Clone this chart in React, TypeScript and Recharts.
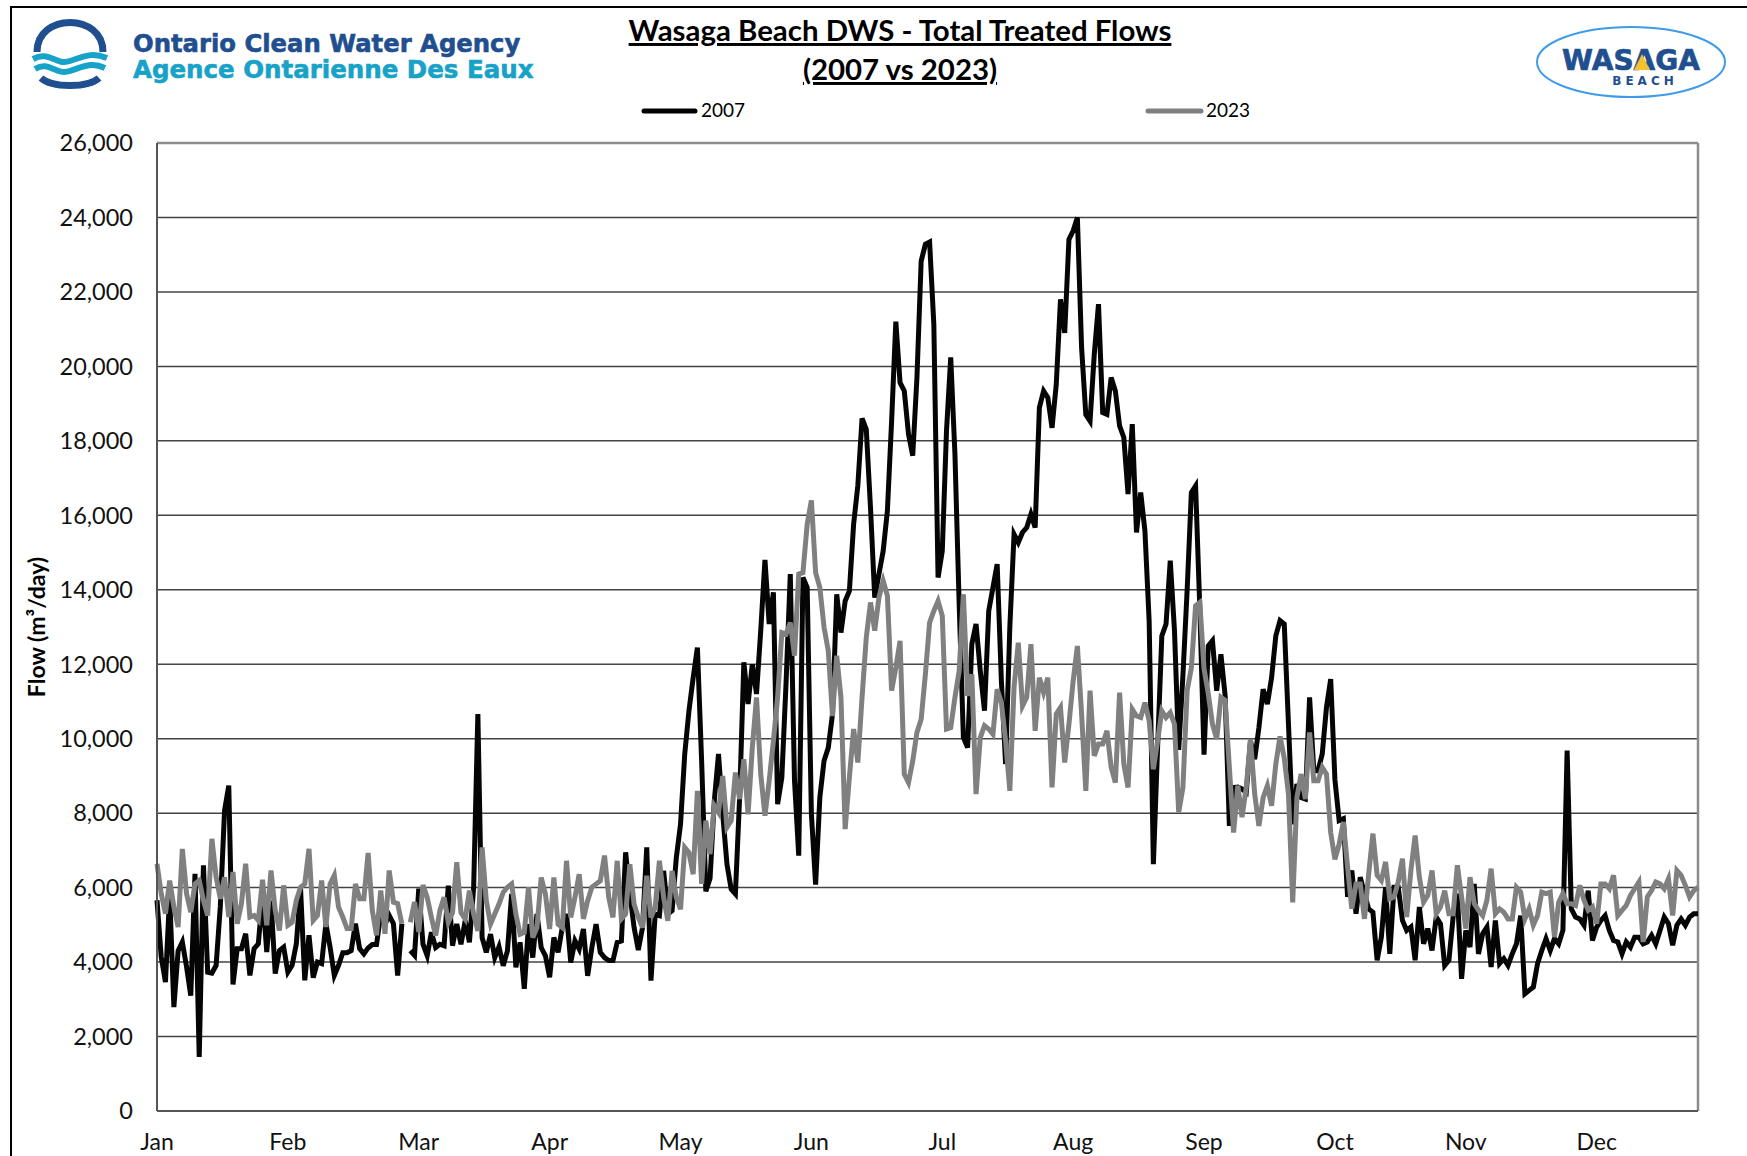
import {
  LineChart,
  Line,
  XAxis,
  YAxis,
  CartesianGrid,
  ReferenceLine,
} from "recharts";

const monthLabels = ["Jan", "Feb", "Mar", "Apr", "May", "Jun", "Jul", "Aug", "Sep", "Oct", "Nov", "Dec"];
const yTicks = [0, 2000, 4000, 6000, 8000, 10000, 12000, 14000, 16000, 18000, 20000, 22000, 24000, 26000];

// one value per day, slot 59 is the blank Feb 29 of the template
const flow2007 = [
  5660, 4135, 3460, 5800, 2790, 4300, 4540, 3870, 3100, 6370,
  1450, 6600, 3730, 3705, 3910, 5500, 8070, 8740, 3400, 4360,
  4360, 4760, 3640, 4360, 4490, 5800, 4270, 5650, 3690, 4310,
  4400, 3730, 3910, 4490, 5970, 3510, 4720, 3580, 4000, 3960,
  5030, 4400, 3640, 3910, 4250, 4250, 4310, 5030, 4360, 4220,
  4380, 4470, 4470, 5300, 5030, 5250, 5030, 3640, 5030, null,
  4310, 4180, 5970, 4480, 4170, 4800, 4390, 4480, 4440, 6050,
  4440, 5020, 4480, 5110, 4530, 6000, 10660, 4660, 4260, 4750,
  4120, 4410, 3900, 4300, 5830, 3860, 4530, 3280, 5020, 4120,
  5290, 4390, 4170, 3590, 4660, 4260, 4930, 5290, 3990, 4570,
  4350, 4890, 3630, 4390, 5020, 4260, 4120, 4040, 4040, 4530,
  4570, 6950, 5830, 4930, 4320, 4930, 7080, 3500, 5290, 5250,
  6450, 5290, 5380, 6800, 7700, 9590, 10750, 11640, 12450, 9400,
  5900, 6250, 8330, 9590, 7970, 6630, 5960, 5830, 8420, 12050,
  10930, 12000, 11200, 12900, 14800, 13080, 13930, 8240, 8960, 11500,
  14420, 8870, 6860, 14330, 14060, 7970, 6080, 8420, 9410, 9760,
  10660, 13880, 12850, 13700, 13970, 15760, 16800, 18600, 18310, 16200,
  13790, 14420, 15040, 16120, 18530, 21200, 19560, 19340, 18180, 17600,
  19700, 22830, 23280, 23340, 21130, 14330, 15040, 18270, 20240, 17640,
  13610, 10030, 9760, 12540, 13080, 11820, 10750, 13430, 14060, 14690,
  11550, 9320, 13000, 15490, 15270, 15540, 15670, 16030, 15670, 18890,
  19340, 19160, 18350, 19520, 21800, 20900, 23410, 23640, 24000, 20500,
  18700, 18530, 20320, 21670, 18760, 18710, 19700, 19340, 18400, 18090,
  16570, 18450, 15540, 16610, 15580, 13160, 6630, 9760, 12760, 13080,
  14780, 12900, 9700, 11700, 14000, 16610, 16790, 13500, 9570, 12490,
  12630, 11290, 12270, 11150, 7660, 8690, 8700, 8650, 8560, 9940,
  9450, 10300, 11330, 10930, 11640, 12760, 13170, 13080, 10390, 7700,
  8780, 8420, 8380, 11110, 9140, 9140, 9590, 10840, 11600, 8900,
  7800, 7850, 5750, 6460, 5300, 6280, 5840, 5430, 5340, 4050,
  4670, 6010, 4220, 6010, 6010, 5120, 4850, 4940, 4050, 5480,
  4490, 4900, 4310, 5210, 5030, 3910, 4050, 5210, 5840, 3550,
  4850, 4400, 6100, 4220, 4760, 4940, 3870, 5120, 3960, 4090,
  3910, 4220, 4490, 5250, 3150, 3240, 3330, 3960, 4310, 4630,
  4310, 4630, 4490, 4850, 9680, 5430, 5210, 5160, 4990, 5920,
  4580, 4940, 5120, 5250, 4850, 4580, 4540, 4220, 4540, 4400,
  4670, 4670, 4490, 4540, 4720, 4490, 4850, 5210, 5030, 4450,
  4990, 5160, 4990, 5210, 5300, 5300,
];

const flow2023 = [
  6640, 5840, 5300, 6190, 5480, 4940, 7040, 5840, 5340, 6100,
  6190, 5660, 5250, 7310, 6280, 5700, 6280, 5210, 6420, 5030,
  5570, 6640, 5210, 5250, 5120, 6210, 4990, 6460, 5390, 4850,
  6060, 4990, 5070, 5660, 6010, 6100, 7040, 5120, 5250, 6190,
  4940, 6100, 6330, 5480, 5210, 4900, 4900, 6100, 5700, 5700,
  6930, 5390, 4720, 5920, 4760, 6460, 5610, 5570, 5030, null,
  5070, 5610, 4810, 6070, 5740, 5200, 4710, 5380, 5740, 5070,
  5330, 6680, 5330, 5160, 5920, 5290, 4840, 7080, 5650, 5020,
  5290, 5560, 5870, 6010, 6100, 5290, 4750, 4800, 6010, 4660,
  4930, 6270, 5830, 4890, 6270, 5020, 4930, 6720, 5200, 5740,
  6360, 5160, 5650, 6010, 6100, 6180, 6860, 5740, 5200, 6720,
  5160, 5290, 6630, 5560, 5200, 4930, 6320, 5200, 5470, 6720,
  5740, 5110, 6450, 5740, 5420, 7080, 6940, 6360, 8600, 6100,
  7800, 6900, 8200, 8020, 9000, 7620, 7800, 9090, 8380, 9450,
  7970, 9760, 11110, 9050, 7930, 8870, 9940, 11110, 12850, 12810,
  13120, 12230, 14420, 14460, 15760, 16400, 14460, 14060, 12990, 12360,
  10610, 12230, 11110, 7570, 8960, 10260, 9360, 11110, 12720, 13660,
  12900, 13790, 14240, 13840, 11290, 11910, 12630, 9050, 8820, 9400,
  10170, 10520, 11730, 13120, 13430, 13700, 13300, 10260, 10300, 11110,
  11820, 13880, 11150, 11730, 8510, 10030, 10350, 10260, 10120, 11330,
  10970, 9940, 8600, 11380, 12580, 10880, 11110, 12540, 10210, 11640,
  11240, 11640, 8690, 10660, 10840, 9360, 10390, 11550, 12490, 10660,
  8600, 11290, 9540, 9860, 9860, 10210, 9230, 8820, 11240, 9320,
  8690, 10790, 10610, 10570, 10970, 10480, 9180, 9940, 10750, 10570,
  10700, 10390, 8020, 8690, 11290, 11910, 13570, 13660, 11880, 11210,
  10390, 9990, 11110, 11030, 9230, 7480, 8740, 7890, 8690, 9990,
  8510, 7660, 8420, 8740, 8200, 9320, 10060, 9480, 8510, 5600,
  8420, 9050, 8380, 10170, 8870, 8870, 9230, 9050, 7480, 6760,
  7170, 7760, 6550, 5430, 6100, 6100, 5160, 6370, 7450, 6330,
  6190, 6690, 5700, 5750, 6150, 6780, 5210, 6460, 7400, 6280,
  5610, 5790, 6460, 5300, 5480, 5920, 5300, 5300, 6600, 5750,
  4900, 6280, 5570, 5390, 5250, 5660, 6510, 5300, 5430, 5340,
  5160, 5160, 6010, 5880, 5160, 5430, 4990, 5250, 5880, 5840,
  5880, 4670, 5610, 5840, 5570, 5570, 5520, 6060, 5660, 5390,
  5480, 5030, 6100, 6100, 5970, 6330, 5250, 5390, 5520, 5790,
  5970, 6150, 4540, 5750, 5920, 6150, 6100, 5970, 6240, 5250,
  6460, 6330, 6060, 5750, 5920, 6010,
];

const tableData = flow2007.map((value, i) => ({ day: i, y2007: value, y2023: flow2023[i] }));

const NAVY = "#1f4f8f";
const CYAN = "#17a2c8";

const titleStyle = { textDecoration: "underline", textDecorationThickness: 3, textUnderlineOffset: 4 };

function Header() {
  return (
    <svg width={1747} height={1156} style={{ position: "absolute", left: 0, top: 0 }}>
      {/* page frame */}
      <path d="M11 1156 V7 H1747" fill="none" stroke="#000" strokeWidth={2} />

      {/* agency logo */}
      <path d="M37 52 C37 12.5 103 12.5 103 52" fill="none" stroke={NAVY} strokeWidth={7} />
      <path d="M33 59 C50 50 55 66 70 61 C85 56 92 52 107 58" fill="none" stroke={CYAN} strokeWidth={6} />
      <path d="M35 69 C50 60 55 76 70 71 C85 66 92 62 105 68" fill="none" stroke={CYAN} strokeWidth={6} />
      <path d="M41 78 C52 88 88 88 99 78" fill="none" stroke={NAVY} strokeWidth={7} />
      <text x={133} y={52} fontFamily="DejaVu Sans" fontWeight={700} fontSize={24.3} fill={NAVY} stroke={NAVY} strokeWidth={0.6}>
        Ontario Clean Water Agency
      </text>
      <text x={133} y={78} fontFamily="DejaVu Sans" fontWeight={700} fontSize={24.5} fill={CYAN} stroke={CYAN} strokeWidth={0.6}>
        Agence Ontarienne Des Eaux
      </text>

      {/* title */}
      <text x={900} y={41} textAnchor="middle" fontFamily="Lato" fontWeight={700} fontSize={29.4} style={titleStyle}>
        Wasaga Beach DWS - Total Treated Flows
      </text>
      <text x={900} y={80} textAnchor="middle" fontFamily="Lato" fontWeight={700} fontSize={29.4} style={titleStyle}>
        (2007 vs 2023)
      </text>

      {/* town logo */}
      <ellipse cx={1631} cy={62} rx={94} ry={35} fill="#fff" stroke="#3f9be8" strokeWidth={2} />
      <text x={1631} y={70} textAnchor="middle" fontFamily="DejaVu Sans" fontWeight={700} fontSize={28} fill={NAVY} stroke={NAVY} strokeWidth={0.7}>
        WASAGA
      </text>
      <path d="M1642 54 L1650 70 H1634 Z" fill="#f2c230" />
      <text x={1645} y={85} textAnchor="middle" fontFamily="DejaVu Sans" fontWeight={700} fontSize={12} letterSpacing={4} fill={NAVY}>
        BEACH
      </text>

      {/* legend */}
      <line x1={644} x2={695} y1={111} y2={111} stroke="#000" strokeWidth={5} strokeLinecap="round" />
      <text x={701} y={117} fontFamily="Lato" fontSize={19}>2007</text>
      <line x1={1148} x2={1201} y1={111} y2={111} stroke="#7f7f7f" strokeWidth={5} strokeLinecap="round" />
      <text x={1206} y={117} fontFamily="Lato" fontSize={19}>2023</text>
    </svg>
  );
}

export default function App() {
  return (
    <div style={{ position: "absolute", left: 0, top: 0, width: 1747, height: 1156, overflow: "hidden", background: "#fff" }}>
      <Header />
      <div style={{ position: "absolute", left: 0, top: 0 }}>
        <LineChart
          width={1747}
          height={1156}
          data={tableData}
          margin={{ top: 143, right: 49, left: 0, bottom: 0 }}
        >
          <CartesianGrid vertical={false} stroke="#444" strokeWidth={1.5} />
          <XAxis
            dataKey="day"
            interval={30}
            height={45}
            tickLine={false}
            axisLine={{ stroke: "#555", strokeWidth: 2 }}
            tickMargin={17}
            tick={{ fontSize: 23, fontFamily: "Lato", fill: "#111" }}
            tickFormatter={(value) => monthLabels[Math.round(value / 31)]}
          />
          <YAxis
            width={157}
            domain={[0, 26000]}
            ticks={yTicks}
            interval={0}
            tickLine={false}
            axisLine={{ stroke: "#555", strokeWidth: 2 }}
            tickMargin={18}
            tick={{ fontSize: 23.5, fontFamily: "Lato", fill: "#111" }}
            tickFormatter={(value) => value.toLocaleString("en-US")}
            label={{
              value: "Flow (m³/day)",
              angle: -90,
              position: "insideLeft",
              offset: 37,
              style: { fontSize: 23, fontFamily: "Lato", fontWeight: 700, fill: "#000", textAnchor: "middle" },
            }}
          />
          <ReferenceLine x={365} stroke="#8c8c8c" strokeWidth={2.5} />
          <ReferenceLine y={26000} stroke="#8c8c8c" strokeWidth={2.5} />
          <Line
            dataKey="y2007"
            type="linear"
            stroke="#050505"
            strokeWidth={5}
            dot={false}
            isAnimationActive={false}
          />
          <Line
            dataKey="y2023"
            type="linear"
            stroke="#808080"
            strokeWidth={5}
            dot={false}
            isAnimationActive={false}
          />
        </LineChart>
      </div>
    </div>
  );
}
